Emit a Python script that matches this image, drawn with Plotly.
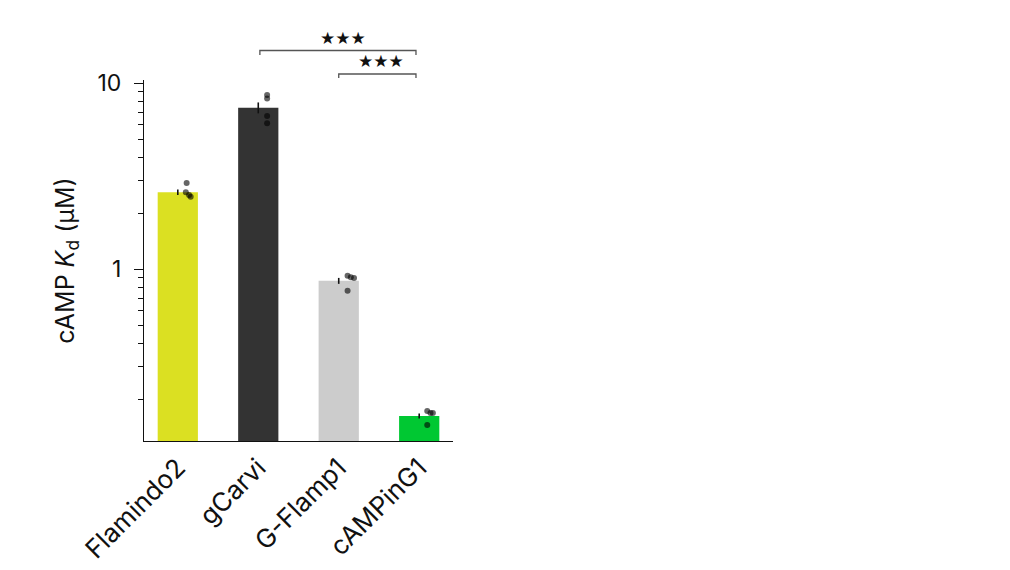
import plotly.graph_objects as go
import numpy as np

# ---- data ----
categories = ["Flamindo2", "gCarvi", "G-Flamp1", "cAMPinG1"]
kd_mean = [2.60, 7.40, 0.868, 0.163]
kd_sem = [0.09, 0.50, 0.032, 0.005]
points_flamindo2 = [2.91, 2.60, 2.51, 2.46]
points_gcarvi = [8.65, 8.30, 6.67, 6.10]
points_gflamp1 = [0.924, 0.906, 0.898, 0.767]
points_campinG1 = [0.173, 0.169, 0.169, 0.1455]
y_ticks = [1, 10]
y_tick_labels = ["1", "10"]
sig_labels = ["★★★", "★★★"]

# ---- style ----
bar_colors = ["#dbe022", "#333333", "#cccccc", "#00c832"]
jitter = [[0.11, 0.10, 0.14, 0.16],
          [0.11, 0.11, 0.11, 0.11],
          [0.11, 0.15, 0.19, 0.11],
          [0.10, 0.14, 0.17, 0.10]]
FONT = "Inter"

all_points = [points_flamindo2, points_gcarvi, points_gflamp1, points_campinG1]
xpos = list(range(len(categories)))

fig = go.Figure()
fig.add_trace(go.Bar(
    x=xpos, y=kd_mean, width=0.5,
    marker=dict(color=bar_colors, line=dict(width=0)),
    error_y=dict(type="data", array=kd_sem, visible=True,
                 color="#111111", thickness=1.6, width=0),
    showlegend=False,
))
for i, pts in enumerate(all_points):
    fig.add_trace(go.Scatter(
        x=[xpos[i] + j for j in jitter[i]], y=pts, mode="markers",
        marker=dict(color="rgba(0,0,0,0.6)", size=6, line=dict(width=0)),
        showlegend=False, cliponaxis=False,
    ))

minor_vals = [v * 10.0 ** e for e in (-1, 0) for v in range(2, 10)]

fig.update_layout(
    width=1002, height=562,
    margin=dict(l=136, r=557, t=72, b=129),
    paper_bgcolor="white", plot_bgcolor="white",
    font=dict(family=FONT, color="#111111"),
    xaxis=dict(
        range=[-0.42, 3.42], tickmode="array", tickvals=xpos, ticktext=categories,
        tickangle=-45, ticks="", showline=True, linecolor="#111111", linewidth=1.3,
        showgrid=False, zeroline=False, tickfont=dict(size=26, family=FONT),
        ticklabelstandoff=0, automargin=False,
    ),
    yaxis=dict(
        type="log", range=[np.log10(0.1195), np.log10(10.43)],
        tickmode="array", tickvals=y_ticks, ticktext=y_tick_labels,
        ticks="outside", ticklen=9, tickwidth=1.2, tickcolor="#111111",
        showline=True, linecolor="#111111", linewidth=1.3, showgrid=False,
        zeroline=False, tickfont=dict(size=23, family=FONT), ticklabelstandoff=8,
        automargin=False,
        minor=dict(tickmode="array", tickvals=minor_vals, ticks="outside",
                   ticklen=5, tickwidth=1.2, tickcolor="#111111", showgrid=False),
        title=dict(text="cAMP <i>K</i><sub>d</sub> (μM)", font=dict(size=25, family=FONT)),
    ),
)

# significance brackets
brackets = [(1.02, 2.96, 1.0817, 1.0693), (2.0, 2.96, 1.0166, 1.0055)]
for x0, x1, yh, yl in brackets:
    fig.add_shape(type="path", xref="x", yref="paper",
                  path=f"M {x0},{yl} L {x0},{yh} L {x1},{yh} L {x1},{yl}",
                  line=dict(color="#555555", width=1.3))
star_pos = [(2.05, 1.117), (2.52, 1.054)]
for (sx, sy), lab in zip(star_pos, sig_labels):
    fig.add_annotation(x=sx, y=sy, xref="x", yref="paper", text=lab,
                       showarrow=False, font=dict(size=17, family="DejaVu Sans", color="#111111"),
                       xanchor="center", yanchor="middle")

fig.write_html("out.html")
